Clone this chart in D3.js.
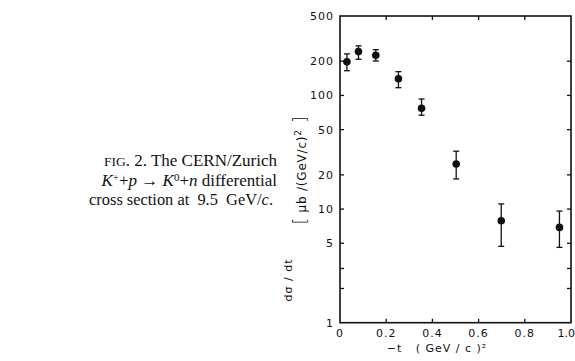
<!DOCTYPE html>
<html>
<head>
<meta charset="utf-8">
<script src="https://cdn.jsdelivr.net/npm/d3@7"></script>
<style>
  body { margin: 0; background: #fff; }
  svg { display: block; }
  .tick-label { font-family: "DejaVu Sans", sans-serif; font-size: 11px; fill: #111; letter-spacing: 1px; }
  .caption { font-family: "Liberation Serif", "DejaVu Serif", serif; font-size: 17px; fill: #111; }
</style>
</head>
<body>
<div id="chart"></div>
<script>
// -t values (GeV/c)^2
const tValues = [0.03, 0.08, 0.155, 0.253, 0.353, 0.503, 0.698, 0.95];
// dσ/dt in μb/(GeV/c)^2
const sigma = [198, 243, 226, 140, 77, 24.9, 7.9, 6.9];
const errHigh = [232, 273, 253, 162, 93, 32.3, 11.1, 9.6];
const errLow = [165, 208, 201, 117, 67, 18.4, 4.7, 4.6];

const xTicks = [0, 0.2, 0.4, 0.6, 0.8, 1.0];
const xTickLabels = ["0", "0.2", "0.4", "0.6", "0.8", "1.0"];
const yTicks = [500, 200, 100, 50, 20, 10, 5, 3, 2, 1];
const yTickLabels = ["500", "200", "100", "50", "20", "10", "5", "", "", "1"];

const data = tValues.map((t, i) => ({t: t, v: sigma[i], hi: errHigh[i], lo: errLow[i]}));

const W = 575, H = 361;
const svg = d3.select("#chart").append("svg")
  .attr("width", W).attr("height", H);

const x = d3.scaleLinear().domain([0, 1]).range([340, 571]);
const y = d3.scaleLog().domain([1, 500]).range([322.7, 16]);

// frame
svg.append("rect")
  .attr("x", x(0)).attr("y", y(500))
  .attr("width", x(1) - x(0)).attr("height", y(1) - y(500))
  .attr("fill", "none").attr("stroke", "#111").attr("stroke-width", 1.6);

const tickLen = 4;
const innerX = xTicks.slice(1, -1);
const innerY = yTicks.slice(1, -1);

// ticks on all four sides, pointing inward
svg.append("g").selectAll("line").data(innerX).join("line")
  .attr("x1", d => x(d)).attr("x2", d => x(d))
  .attr("y1", y(1)).attr("y2", y(1) - tickLen)
  .attr("stroke", "#111").attr("stroke-width", 1.3);
svg.append("g").selectAll("line").data(innerX).join("line")
  .attr("x1", d => x(d)).attr("x2", d => x(d))
  .attr("y1", y(500)).attr("y2", y(500) + tickLen)
  .attr("stroke", "#111").attr("stroke-width", 1.3);
svg.append("g").selectAll("line").data(innerY).join("line")
  .attr("x1", x(0)).attr("x2", x(0) + tickLen)
  .attr("y1", d => y(d)).attr("y2", d => y(d))
  .attr("stroke", "#111").attr("stroke-width", 1.3);
svg.append("g").selectAll("line").data(innerY).join("line")
  .attr("x1", x(1)).attr("x2", x(1) - tickLen)
  .attr("y1", d => y(d)).attr("y2", d => y(d))
  .attr("stroke", "#111").attr("stroke-width", 1.3);

// tick labels
svg.append("g").selectAll("text").data(xTicks).join("text")
  .attr("class", "tick-label")
  .attr("x", (d, i) => i === xTicks.length - 1 ? 575 : x(d))
  .attr("y", 337)
  .attr("text-anchor", (d, i) => i === xTicks.length - 1 ? "end" : "middle")
  .style("letter-spacing", (d, i) => i === xTicks.length - 1 ? "0px" : null)
  .text((d, i) => xTickLabels[i]);

svg.append("g").selectAll("text").data(yTicks).join("text")
  .attr("class", "tick-label")
  .attr("x", 334).attr("y", d => y(d) + 4)
  .attr("text-anchor", "end")
  .text((d, i) => yTickLabels[i]);

// axis titles
svg.append("text").attr("class", "tick-label")
  .attr("x", 437).attr("y", 352).attr("text-anchor", "middle")
  .attr("xml:space", "preserve")
  .text("\u2212t   ( GeV / c )\u00B2");

svg.append("text").attr("class", "tick-label")
  .attr("transform", "translate(292,280) rotate(-90)")
  .attr("text-anchor", "middle").style("font-size", "11px")
  .text("d\u03C3 / dt");

const ul = svg.append("text").attr("class", "tick-label")
  .attr("transform", "translate(306,170) rotate(-90)")
  .attr("text-anchor", "middle").style("font-size", "12px").style("letter-spacing", "0.8px");
ul.append("tspan").style("font-size", "17px").style("font-weight", "100").text("[");
ul.append("tspan").text(" \u03BCb /(GeV/c)");
ul.append("tspan").attr("dy", -5).style("font-size", "9px").text("2");
ul.append("tspan").attr("dy", 5).style("font-size", "17px").style("font-weight", "100").text(" ]");

// error bars
const cap = 3;
const eb = svg.append("g").attr("stroke", "#111").attr("stroke-width", 1.3);
eb.selectAll(".v").data(data).join("line")
  .attr("x1", d => x(d.t)).attr("x2", d => x(d.t))
  .attr("y1", d => y(d.hi)).attr("y2", d => y(d.lo));
eb.selectAll(".ct").data(data).join("line")
  .attr("x1", d => x(d.t) - cap).attr("x2", d => x(d.t) + cap)
  .attr("y1", d => y(d.hi)).attr("y2", d => y(d.hi));
eb.selectAll(".cb").data(data).join("line")
  .attr("x1", d => x(d.t) - cap).attr("x2", d => x(d.t) + cap)
  .attr("y1", d => y(d.lo)).attr("y2", d => y(d.lo));

// points
svg.append("g").selectAll("circle").data(data).join("circle")
  .attr("cx", d => x(d.t)).attr("cy", d => y(d.v))
  .attr("r", 3.8).attr("fill", "#111");

// caption
const cap1 = svg.append("text").attr("class", "caption").attr("text-anchor", "end")
  .attr("x", 277).attr("y", 166);
cap1.append("tspan").style("font-size", "13.5px").text("FIG");
cap1.append("tspan").text(". 2. The CERN/Zurich");

const cap2 = svg.append("text").attr("class", "caption").attr("text-anchor", "end")
  .attr("x", 277).attr("y", 186);
cap2.append("tspan").style("font-style", "italic").text("K");
cap2.append("tspan").attr("dy", -5).style("font-size", "11px").text("+");
cap2.append("tspan").attr("dy", 5).text("+");
cap2.append("tspan").style("font-style", "italic").text("p");
cap2.append("tspan").text(" \u2192 ");
cap2.append("tspan").style("font-style", "italic").text("K");
cap2.append("tspan").attr("dy", -5).style("font-size", "11px").text("0");
cap2.append("tspan").attr("dy", 5).text("+");
cap2.append("tspan").style("font-style", "italic").text("n");
cap2.append("tspan").text(" differential");

const cap3 = svg.append("text").attr("class", "caption").attr("text-anchor", "end")
  .attr("x", 273).attr("y", 205).attr("xml:space", "preserve").style("font-size", "16.4px");
cap3.append("tspan").text("cross section at  9.5  GeV/");
cap3.append("tspan").style("font-style", "italic").text("c");
cap3.append("tspan").text(".");
</script>
</body>
</html>
